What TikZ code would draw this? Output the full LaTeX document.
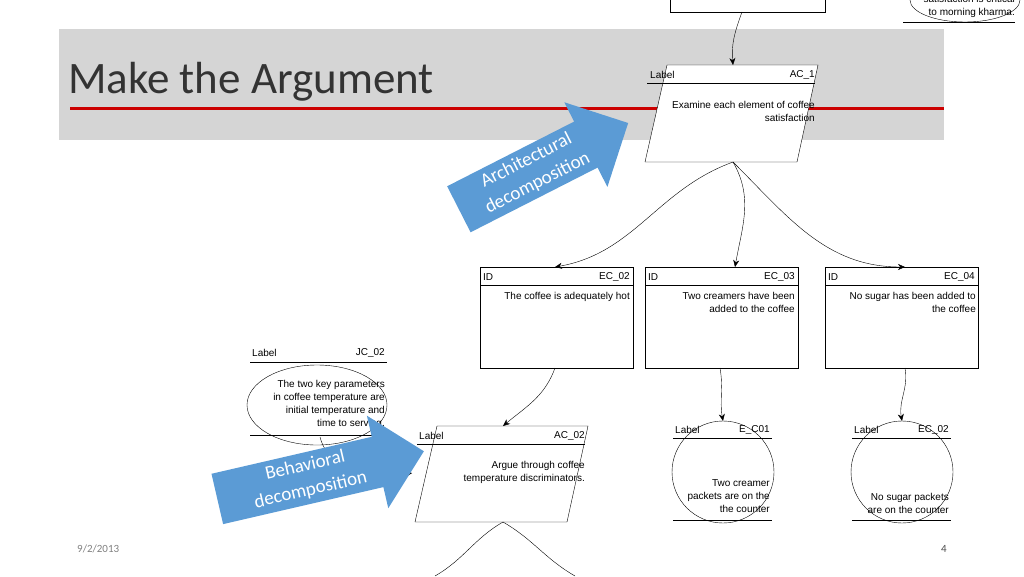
\documentclass[tikz,border=0pt]{standalone}
\usepackage{fontspec}
\setmainfont{Liberation Sans}
\newfontfamily\slidefont{Carlito}
\usetikzlibrary{positioning, arrows.meta, shapes.arrows}
\tikzset{
  x=1pt, y=-1pt,
  conn/.style={-{Stealth[length=7pt,width=6pt]}, thin}, % connectors between elements
  txt/.style={font=\fontsize{10}{13}\selectfont, inner sep=0pt, align=right},
  tag/.style={font=\fontsize{10}{12}\selectfont, inner sep=0pt},
  bluearrow/.style={single arrow, fill={rgb,255:red,91;green,155;blue,213},
    text=white, font=\slidefont\fontsize{19}{25}\selectfont, align=center,
    single arrow head extend=20pt, inner sep=3pt},
}
\begin{document}
\begin{tikzpicture}
\useasboundingbox (0,0) rectangle (1024,576);
% slide title band
\fill[gray!33] (59,29) rectangle (944,140);
\node[anchor=west, inner sep=0pt, font=\slidefont\fontsize{45}{48}\selectfont, text=black!80] (title) at (68,82) {Make the Argument};
\fill[red!80!black] (70,106.5) rectangle (944,110);

% top strategy box (cut off)
\draw[fill=white] (670,-5) rectangle (825,12);
\coordinate (topbox) at (742,12);

% top justification (cut off)
\draw (965,0) ellipse [x radius=55, y radius=22];
\draw (903,22) -- (1015,22);
\node[txt, anchor=north east] (jctop) at (1015,-5) {satisfaction is critical\\to morning kharma.};

% AC_1
\draw[fill=white] (667,65) -- (818,65) -- (797,162) -- (645,162) -- cycle;
\draw (647,83) -- (815,83);
\node[tag, anchor=west] (aclabel) at (650,75) {Label};
\node[tag, anchor=east] (acid) at (815,75) {AC\_1};
\node[txt, anchor=north east] (actext) at (815,101) {Examine each element of coffee\\satisfaction};
\coordinate (actop) at (733,65);
\coordinate (acbot) at (733,162);
\draw[conn] (topbox) to[out=-110, in=95] (actop);

% evidence claims
\foreach \x/\id in {480/EC\_02, 645/EC\_03, 825/EC\_04} {
  \draw (\x,267) rectangle (\x+153,368);
  \draw (\x,285) -- (\x+153,285);
  \node[tag, anchor=west] at (\x+3,277) {ID};
  \node[tag, anchor=east] at (\x+150,277) {\id};
}
\node[txt, anchor=north east] (ectwo) at (630,292) {The coffee is adequately hot};
\node[txt, anchor=north east] (ecthree) at (795,292) {Two creamers have been\\added to the coffee};
\node[txt, anchor=north east] (ecfour) at (976,292) {No sugar has been added to\\the coffee};
\draw[conn] (acbot) to[out=200, in=10] (555,267);
\draw[conn] (acbot) to[out=-60, in=80] (735,267);
\draw[conn] (acbot) to[out=-45, in=180] (905,267);

% JC_02
\draw (317,405) ellipse [x radius=70, y radius=40];
\draw (250,362) -- (387,362);
\draw (250,435) -- (387,435);
\node[tag, anchor=west] (jclabel) at (252,353) {Label};
\node[tag, anchor=east] (jcid) at (385,353) {JC\_02};
\node[txt, anchor=north east] (jctext) at (385,380) {The two key parameters\\in coffee temperature are\\initial temperature and\\time to serving.};

% AC_02
\draw[fill=white] (437,426) -- (588,426) -- (567,522) -- (415,522) -- cycle;
\draw (417,444) -- (585,444);
\node[tag, anchor=west] (aclabeltwo) at (419,436) {Label};
\node[tag, anchor=east] (acidtwo) at (585,436) {AC\_02};
\node[txt, anchor=north east] (actexttwo) at (585,461) {Argue through coffee\\temperature discriminators.};
\coordinate (actoptwo) at (503,426);
\coordinate (acbottwo) at (503,522);
\draw[conn] (555,368) to[out=-110, in=40] (actoptwo);
\draw[conn] (320,437) to[out=-75, in=190] (412,473);
\draw (acbottwo) to[out=210, in=30] (435,576);
\draw (acbottwo) to[out=-30, in=150] (575,576);

% evidence
\foreach \cx/\id in {723/E\_C01, 902/EC\_02} {
  \draw (\cx,472) circle [radius=51];
  \draw (\cx-50,438) -- (\cx+49,438);
  \draw (\cx-50,520) -- (\cx+49,520);
  \node[tag, anchor=west] at (\cx-48,430) {Label};
  \node[tag, anchor=east] at (\cx+47,430) {\id};
}
\node[txt, anchor=north east] (evone) at (770,479) {Two creamer\\packets are on the\\the counter};
\node[txt, anchor=north east] (evtwo) at (949,493) {No sugar packets\\are on the counter};
\draw[conn] (720,368) to[out=-80, in=100] (723,421);
\draw[conn] (905,368) to[out=-80, in=100] (902,421);

% decomposition arrows
\node[bluearrow, rotate=27, minimum height=190pt, minimum width=95pt] (archarrow) at (532,172) {Architectural\\decomposition};
\node[bluearrow, rotate=13, minimum height=212pt, minimum width=95pt] (behavarrow) at (308,478) {Behavioral\\decomposition};

% footer
\node[anchor=west, inner sep=0pt, font=\slidefont\fontsize{11}{12}\selectfont, text=gray] (date) at (77,549) {9/2/2013};
\node[inner sep=0pt, font=\slidefont\fontsize{11}{12}\selectfont, text=gray!60!black] (page) at (944,549) {4};
\end{tikzpicture}
\end{document}
